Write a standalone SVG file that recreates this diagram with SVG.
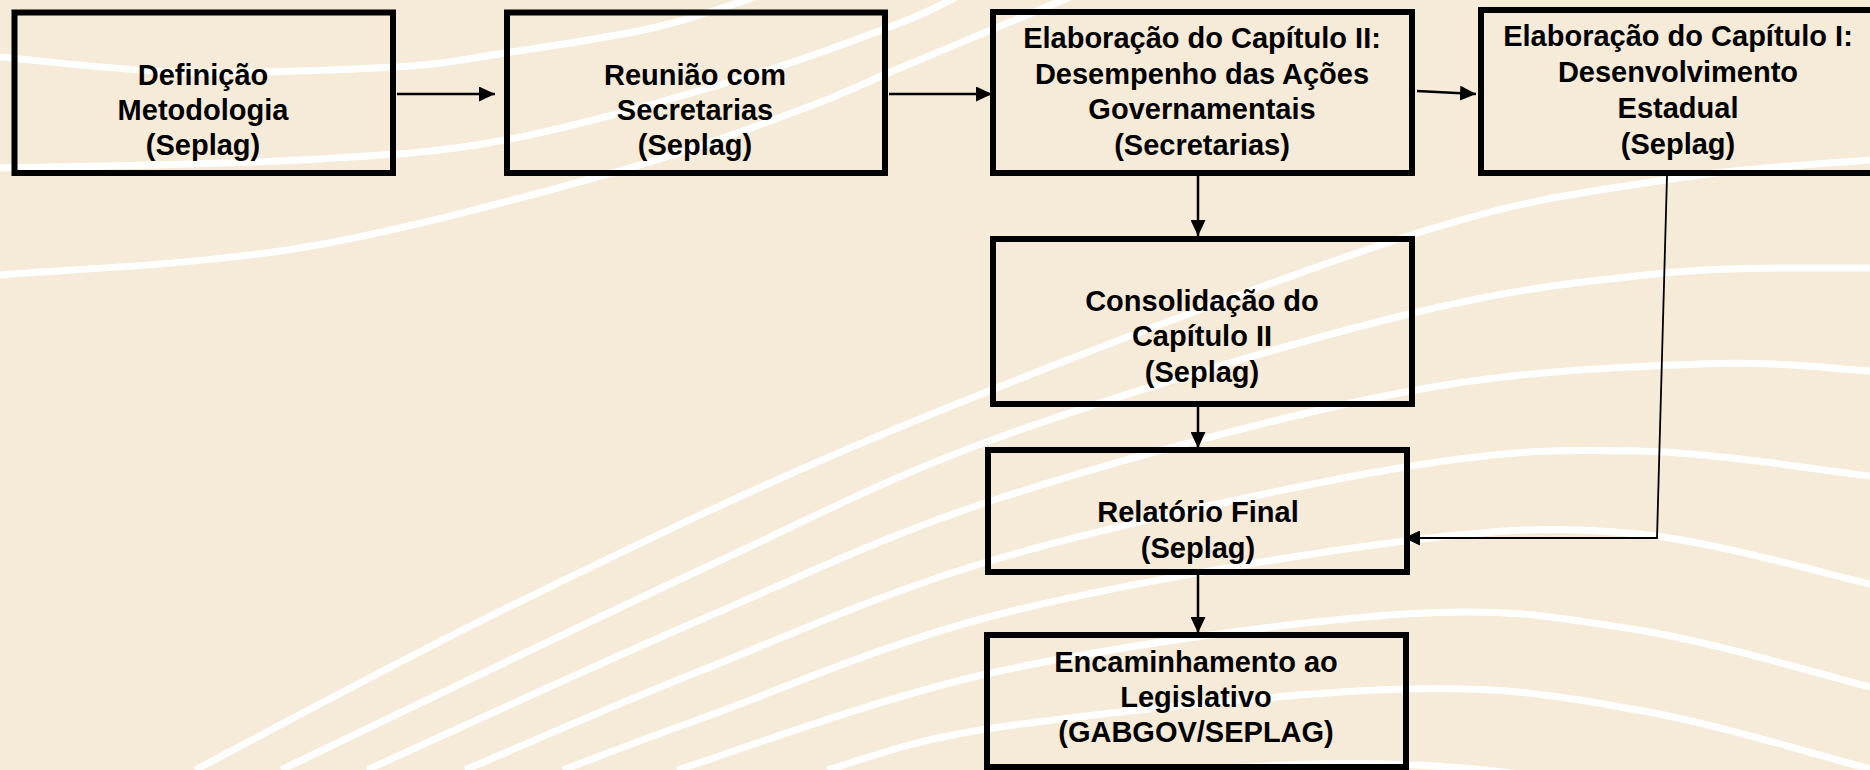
<svg xmlns="http://www.w3.org/2000/svg" width="1870" height="770" viewBox="0 0 1870 770">
<defs>
<style>
.bg{fill:#F5EBD8}
.wave{fill:none;stroke:#FFFFFF;stroke-width:7}
.box{fill:none;stroke:#000;stroke-width:6}
.lbl{font-family:"Liberation Sans",Arial,sans-serif;font-weight:bold;font-size:29px;fill:#000;text-anchor:middle}
.conn{fill:none;stroke:#000;stroke-width:2.5}
.thin{fill:none;stroke:#000;stroke-width:1.8}
</style>
<marker id="ah" markerUnits="userSpaceOnUse" markerWidth="16" markerHeight="15" refX="16" refY="7.5" orient="auto">
<path d="M0,0 L16,7.5 L0,15 z" fill="#000"/>
</marker>
</defs>
<rect class="bg" x="0" y="0" width="1870" height="770"/>
<g id="background-waves">
<path class="wave" d="M0,57 C30,59.5 114.3,70.3 180,72 C245.7,73.7 339.8,70.2 394,67 C448.2,63.8 461.2,59.7 505,53 C548.8,46.3 612.8,37.2 657,27 C701.2,16.8 751.2,-2.2 770,-8"/>
<path class="wave" d="M0,168 C50,166.7 215.8,164.7 300,160 C384.2,155.3 430.7,153.8 505,140 C579.3,126.2 680.2,96.5 746,77 C811.8,57.5 864.3,36.7 900,23 C935.7,9.3 950,-0.3 960,-5"/>
<path class="wave" d="M0,275 C50,270.5 198,265 300,248 C402,231 528.7,196 612,173 C695.3,150 752,127.5 800,110 C848,92.5 854.2,87.2 900,68 C945.8,48.8 1045.8,7.2 1075,-5"/>
<path class="wave" d="M195,770 C248.7,742.2 399.5,660.2 517,603 C634.5,545.8 752,488 900,427 C1048,366 1277.5,278.2 1405,237 C1532.5,195.8 1587.5,192.8 1665,180 C1742.5,167.2 1835.8,163.3 1870,160"/>
<path class="wave" d="M281,770 C350.8,736.7 580.2,625.5 700,570 C819.8,514.5 882.5,479.5 1000,437 C1117.5,394.5 1294.2,342.3 1405,315 C1515.8,287.7 1587.5,280.8 1665,273 C1742.5,265.2 1835.8,268.8 1870,268"/>
<path class="wave" d="M367,770 C422.5,745 594.5,665.3 700,620 C805.5,574.7 882.5,536 1000,498 C1117.5,460 1288.3,414.3 1405,392 C1521.7,369.7 1622.5,367.5 1700,364 C1777.5,360.5 1841.7,369.8 1870,371"/>
<path class="wave" d="M465,770 C504.2,753.5 610.8,706.3 700,671 C789.2,635.7 882.5,592 1000,558 C1117.5,524 1298.7,484.8 1405,467 C1511.3,449.2 1560.5,449.5 1638,451 C1715.5,452.5 1831.3,471.8 1870,476"/>
<path class="wave" d="M563,770 C585.8,761.5 627.2,745 700,719 C772.8,693 882.5,643.7 1000,614 C1117.5,584.3 1298.7,554.3 1405,541 C1511.3,527.7 1560.5,526.8 1638,534 C1715.5,541.2 1831.3,575.7 1870,584"/>
<path class="wave" d="M677,770 C730.8,753.5 878.7,697 1000,671 C1121.3,645 1298.7,620.8 1405,614 C1511.3,607.2 1560.5,617.8 1638,630 C1715.5,642.2 1831.3,677.5 1870,687"/>
<path class="wave" d="M827,770 C855.8,762.8 903.7,740.5 1000,727 C1096.3,713.5 1298.7,691.8 1405,689 C1511.3,686.2 1560.5,696.7 1638,710 C1715.5,723.3 1831.3,759.2 1870,769"/>
<path class="wave" d="M1150,776 Q1350,752 1520,774"/>
</g>
<g id="connectors">
<path class="conn" d="M397,94 L495,94" marker-end="url(#ah)"/>
<path class="conn" d="M889,94 L992,94" marker-end="url(#ah)"/>
<path class="conn" d="M1417,91 L1476,94" marker-end="url(#ah)"/>
<path class="conn" d="M1198,176 L1198,236" marker-end="url(#ah)"/>
<path class="conn" d="M1198,407 L1198,448" marker-end="url(#ah)"/>
<path class="conn" d="M1198,575 L1198,633" marker-end="url(#ah)"/>
<path class="thin" d="M1667,176 L1657,538 L1404,538" marker-end="url(#ah)"/>
</g>
<g id="node-definicao">
<rect class="box" x="14.5" y="12.5" width="378.5" height="160.5"/>
<text class="lbl" x="203" y="85">Definição</text>
<text class="lbl" x="203" y="120">Metodologia</text>
<text class="lbl" x="203" y="155">(Seplag)</text>
</g>
<g id="node-reuniao">
<rect class="box" x="507" y="12.5" width="378" height="160.5"/>
<text class="lbl" x="695" y="85">Reunião com</text>
<text class="lbl" x="695" y="120">Secretarias</text>
<text class="lbl" x="695" y="155">(Seplag)</text>
</g>
<g id="node-cap2">
<rect class="box" x="993" y="12" width="419" height="161"/>
<text class="lbl" x="1202" y="48">Elaboração do Capítulo II:</text>
<text class="lbl" x="1202" y="83.5">Desempenho das Ações</text>
<text class="lbl" x="1202" y="119">Governamentais</text>
<text class="lbl" x="1202" y="154.5">(Secretarias)</text>
</g>
<g id="node-cap1">
<rect class="box" x="1481" y="10" width="400" height="163"/>
<text class="lbl" x="1678" y="46">Elaboração do Capítulo I:</text>
<text class="lbl" x="1678" y="82">Desenvolvimento</text>
<text class="lbl" x="1678" y="118">Estadual</text>
<text class="lbl" x="1678" y="153.5">(Seplag)</text>
</g>
<g id="node-consolidacao">
<rect class="box" x="993" y="239" width="419" height="165"/>
<text class="lbl" x="1202" y="311">Consolidação do</text>
<text class="lbl" x="1202" y="346">Capítulo II</text>
<text class="lbl" x="1202" y="382">(Seplag)</text>
</g>
<g id="node-relatorio">
<rect class="box" x="988" y="450" width="419" height="122"/>
<text class="lbl" x="1198" y="522">Relatório Final</text>
<text class="lbl" x="1198" y="557.5">(Seplag)</text>
</g>
<g id="node-encaminhamento">
<rect class="box" x="987" y="635" width="419" height="132"/>
<text class="lbl" x="1196" y="672">Encaminhamento ao</text>
<text class="lbl" x="1196" y="707">Legislativo</text>
<text class="lbl" x="1196" y="742">(GABGOV/SEPLAG)</text>
</g>
</svg>
